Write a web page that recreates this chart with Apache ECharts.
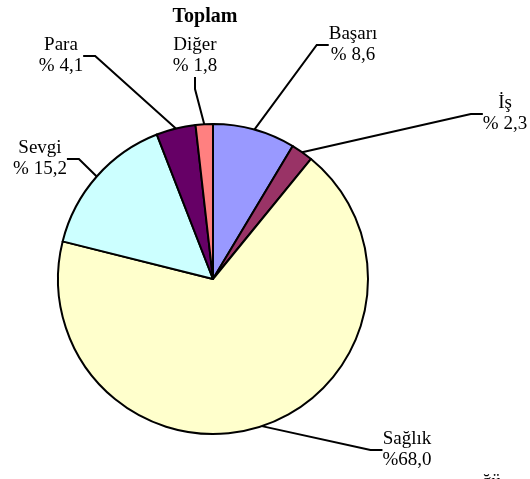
<!DOCTYPE html>
<html>
<head>
<meta charset="utf-8">
<script src="https://cdn.jsdelivr.net/npm/echarts@6/dist/echarts.min.js"></script>
<style>
  html, body { margin: 0; padding: 0; background: #fff; }
  #chart { width: 530px; height: 479px; }
</style>
</head>
<body>
<div id="chart"></div>
<script>
// dilim adları ve yüzdeleri (saat yönünde, tepeden başlayarak)
const names = ['Başarı', 'İş', 'Sağlık', 'Sevgi', 'Para', 'Diğer']
const values = [8.6, 2.3, 68.0, 15.2, 4.1, 1.8]
const pctLabels = ['% 8,6', '% 2,3', '%68,0', '% 15,2', '% 4,1', '% 1,8']
const colors = ['#9999FF', '#993366', '#FFFFCC', '#CCFFFF', '#660066', '#FF8080']

// etiket yerleri (elle taşınmış etiketler)
const labelPos = [
    [353, 45], [505, 114], [407, 450], [40, 159], [61, 56], [195, 56]
]

const chart = echarts.init(document.getElementById('chart'))

chart.setOption({
    animation: false,
    title: {
        text: 'Toplam',
        left: 200,
        top: 2,
        textAlign: 'center',
        textStyle: {
            fontFamily: 'Liberation Serif',
            fontWeight: 'bold',
            fontSize: 20,
            color: '#000'
        }
    },
    graphic: [{
        type: 'text',
        left: 482,
        top: 473,
        style: { text: 'ğü', font: '19px "Liberation Serif"', fill: '#000' }
    }],
    series: [{
        type: 'pie',
        center: [213, 279],
        radius: 155,
        startAngle: 90,
        clockwise: true,
        silent: true,
        data: names.map((n, i) => ({
            name: n,
            value: values[i],
            itemStyle: { color: colors[i] }
        })),
        itemStyle: { borderColor: '#000', borderWidth: 2 },
        label: {
            formatter: p => p.name + '\n' + pctLabels[p.dataIndex],
            fontFamily: 'Liberation Serif',
            fontSize: 19,
            lineHeight: 21,
            color: '#000',
            align: 'center',
            overflow: 'none'
        },
        labelLine: {
            show: true,
            length: 20,
            length2: 12,
            lineStyle: { color: '#000', width: 2 }
        },
        labelLayout: p => ({
            x: labelPos[p.dataIndex][0],
            y: labelPos[p.dataIndex][1],
            align: 'center',
            verticalAlign: 'middle'
        })
    }]
})
</script>
</body>
</html>
